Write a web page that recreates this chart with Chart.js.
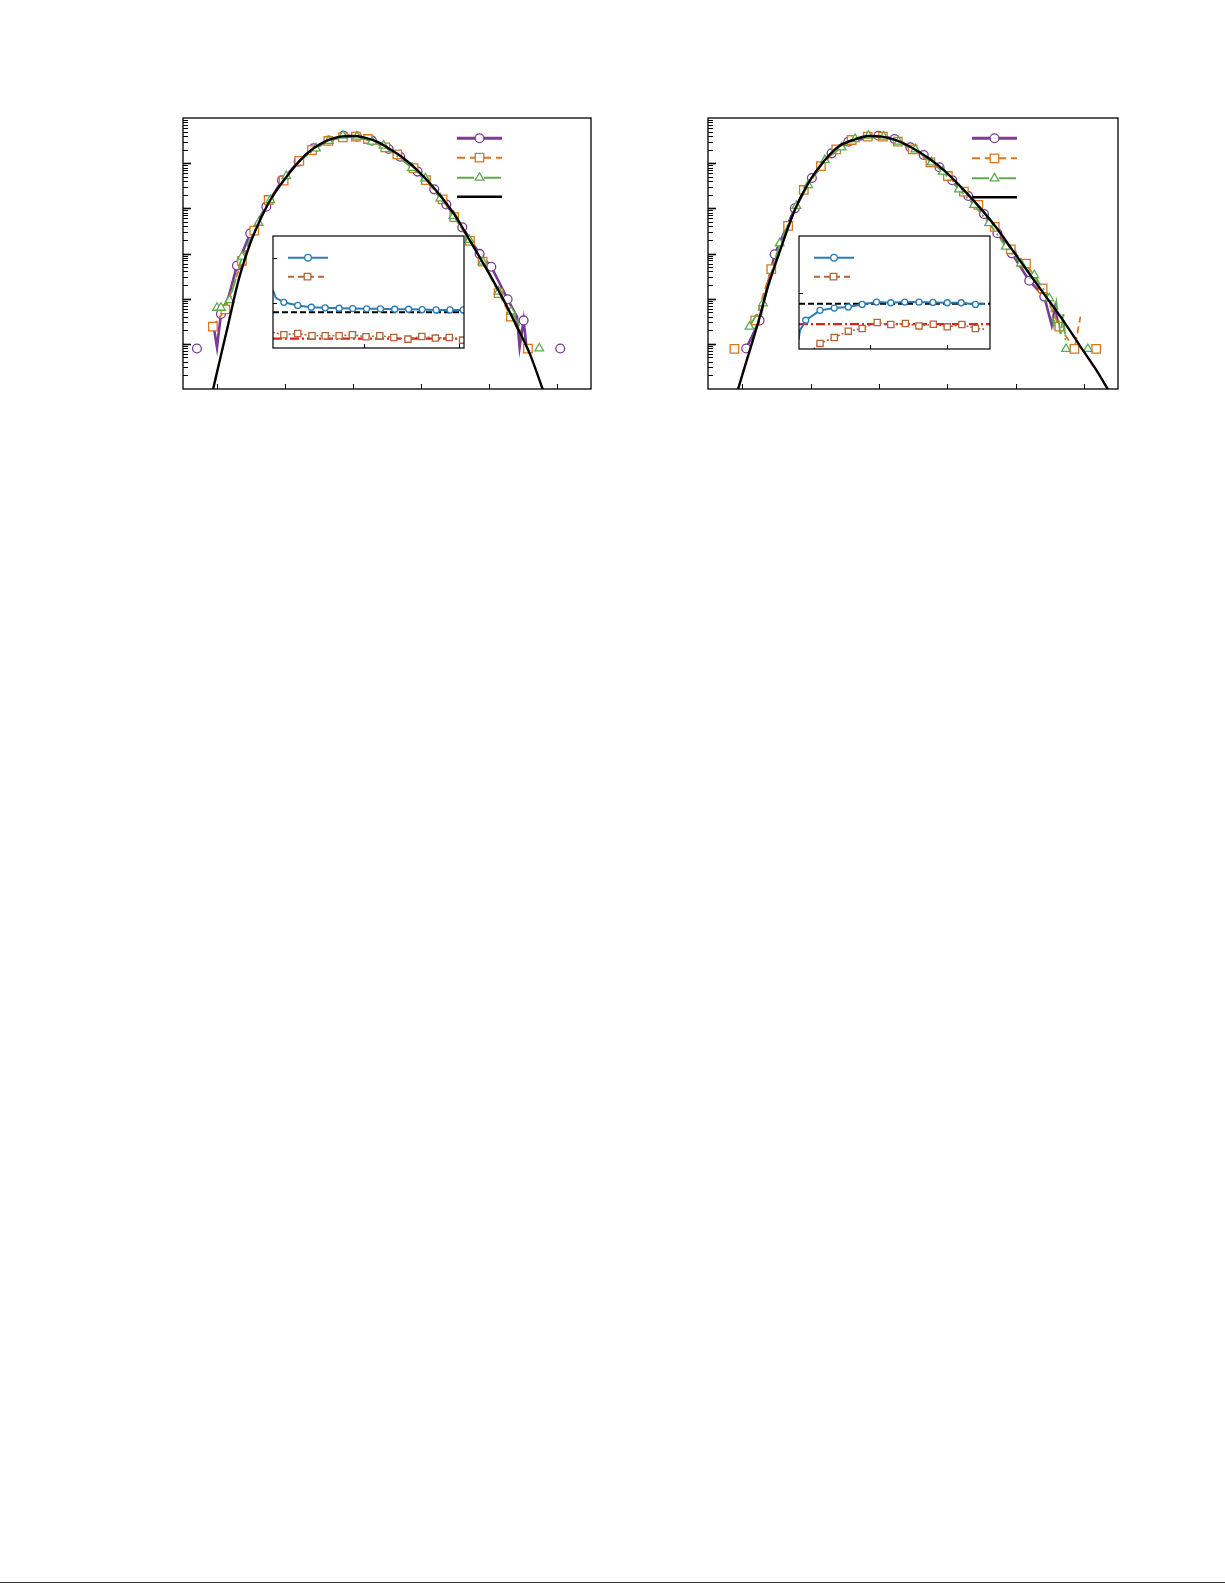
<!DOCTYPE html>
<html>
<head>
<meta charset="utf-8">
<script src="https://cdn.jsdelivr.net/npm/chart.js@4.4.1/dist/chart.umd.min.js"></script>
<style>
html, body { margin: 0; padding: 0; background: #fff; }
body { width: 1225px; height: 1585px; position: relative; overflow: hidden; }
canvas { position: absolute; }
#rule { position: absolute; left: 0; top: 1582px; width: 1225px; height: 1px; background: #333; }
</style>
</head>
<body>
<canvas id="mainL" style="left:173px;top:108px" width="428" height="291"></canvas>
<canvas id="mainR" style="left:698px;top:108px" width="430" height="291"></canvas>
<canvas id="insetL" style="left:263px;top:226px" width="211" height="132"></canvas>
<canvas id="insetR" style="left:789px;top:226px" width="211" height="133"></canvas>
<div id="rule"></div>
<script>
// ---- axis ticks (no labels in the figure) ----
const mainXTicks = [0, 1, 2, 3, 4, 5];
const mainDecades = [1e-7, 1e-6, 1e-5, 1e-4, 1e-3, 1e-2, 1e-1];
const insetLXTicks = [1, 2];
const insetLYTicks = [1, 2];
const insetRXTicks = [1, 2];
const insetRYTicks = [1];

// ---- left panel, main plot ----
const purpleLX = [-0.295, -0.2, -0.04, 0.0, 0.058, 0.171, 0.293, 0.489, 0.725, 0.955, 1.2, 1.421, 1.641, 1.862, 2.058, 2.279, 2.524, 2.695, 2.95, 3.195, 3.372, 3.607, 3.862, 4.034, 4.274, 4.411, 4.45, 4.509, 4.548, 4.8, 5.048];
const purpleLY = [7.9e-7, null, 2.0e-6, 8.4e-7, 4.6e-6, 1.1e-5, 5.4e-5, 2.8e-4, 1.09e-3, 4.2e-3, 1.08e-2, 2.13e-2, 3.15e-2, 4.06e-2, 3.87e-2, 3.15e-2, 2.06e-2, 1.39e-2, 6.5e-3, 2.63e-3, 1.22e-3, 3.8e-4, 9.8e-5, 5.1e-5, 9.7e-6, 4.0e-6, 8.4e-7, 3.3e-6, 9.4e-7, null, 7.9e-7];
const orangeLX = [-0.06, 0.122, 0.367, 0.548, 0.759, 0.98, 1.21, 1.396, 1.637, 1.852, 2.043, 2.22, 2.475, 2.651, 2.891, 3.073, 3.318, 3.489, 3.72, 3.906, 4.141, 4.323, 4.573];
const orangeLY = [2.4e-6, 5.8e-6, 6.9e-5, 3.2e-4, 1.53e-3, 4.1e-3, 1.12e-2, 1.95e-2, 3.1e-2, 3.73e-2, 3.87e-2, 3.43e-2, 2.24e-2, 1.57e-2, 7.8e-3, 4.2e-3, 1.58e-3, 6.4e-4, 1.9e-4, 6.6e-5, 1.33e-5, 4.0e-6, 7.8e-7];
const greenLX = [0.0, 0.058, 0.186, 0.367, 0.612, 0.784, 1.019, 1.225, 1.455, 1.641, 1.852, 2.058, 2.279, 2.45, 2.867, 3.063, 3.284, 3.48, 3.71, 3.906, 4.141, 4.323, 4.435, 4.484, 4.6, 4.739];
const greenLY = [6.3e-6, 6.3e-6, 9.3e-6, 8.5e-5, 4.8e-4, 1.53e-3, 5.2e-3, 1.17e-2, 2.13e-2, 3.1e-2, 4.06e-2, 3.87e-2, 2.99e-2, 2.44e-2, 7.9e-3, 4.6e-3, 1.66e-3, 6.8e-4, 2.0e-4, 6.6e-5, 1.43e-5, 5.2e-6, 2.8e-6, 1.2e-6, null, 7.9e-7];
const fitLX = [-0.06, 0.048, 0.16, 0.318, 0.489, 0.612, 0.784, 1.004, 1.225, 1.421, 1.617, 1.813, 1.985, 2.156, 2.352, 2.548, 2.744, 2.94, 3.137, 3.333, 3.529, 3.7, 3.872, 4.044, 4.215, 4.411, 4.607, 4.793];
const fitLY = [9.5e-8, 4.8e-7, 2.5e-6, 2.6e-5, 1.68e-4, 4.7e-4, 1.53e-3, 4.6e-3, 1.17e-2, 2.13e-2, 3.15e-2, 3.87e-2, 3.99e-2, 3.73e-2, 2.99e-2, 2.02e-2, 1.28e-2, 7.1e-3, 3.5e-3, 1.53e-3, 6.0e-4, 2.17e-4, 7.8e-5, 2.8e-5, 9.3e-6, 2.4e-6, 5.7e-7, 9.5e-8];

// ---- right panel, main plot ----
const purpleRX = [0.059, 0.255, 0.475, 0.77, 1.02, 1.309, 1.554, 1.995, 2.23, 2.461, 2.657, 2.887, 3.074, 3.309, 3.539, 3.735, 3.946, 4.201, 4.421, 4.53, 4.58, 4.64];
const purpleRY = [7.9e-7, 3.3e-6, 9.6e-5, 1.0e-3, 4.7e-3, 1.65e-2, 2.99e-2, 4.06e-2, 3.43e-2, 2.24e-2, 1.52e-2, 8.1e-3, 4.2e-3, 1.88e-3, 7.5e-4, 2.8e-4, 1.01e-4, 2.5e-5, 1.11e-5, 2.6e-6, 6.5e-6, 2.0e-6];
const orangeRX = [-0.113, 0.04, 0.191, 0.426, 0.672, 0.902, 1.152, 1.377, 1.603, 1.838, 2.06, 2.279, 2.495, 2.755, 3.01, 3.245, 3.456, 3.696, 3.931, 4.153, 4.397, 4.642, 4.863, 4.95, 5.06, 5.181];
const orangeRY = [7.7e-7, null, 3.3e-6, 4.5e-5, 4.1e-4, 2.55e-3, 8.6e-3, 2.02e-2, 3.26e-2, 3.87e-2, 3.87e-2, 2.99e-2, 2.02e-2, 1.04e-2, 5.2e-3, 2.34e-3, 1.19e-3, 3.9e-4, 1.24e-4, 6.0e-5, 1.69e-5, 2.4e-6, 7.7e-7, 4.0e-6, null, 7.7e-7];
const greenRX = [0.108, 0.304, 0.549, 0.794, 0.966, 1.211, 1.456, 1.652, 1.848, 2.069, 2.289, 2.534, 2.77, 2.936, 3.172, 3.392, 3.613, 3.858, 4.078, 4.274, 4.495, 4.56, 4.6, 4.66, 4.70, 4.74, 4.9, 5.059];
const greenRY = [2.4e-6, 7.9e-6, 1.68e-4, 1.13e-3, 3.28e-3, 1.17e-2, 2.24e-2, 3.43e-2, 4.06e-2, 3.87e-2, 2.99e-2, 2.02e-2, 1.04e-2, 6.5e-3, 2.63e-3, 1.19e-3, 4.7e-4, 1.42e-4, 6.0e-5, 3.3e-5, 1.02e-5, 2.6e-6, 8.0e-6, 1.5e-6, 5.0e-6, 7.7e-7, null, 7.7e-7];
const fitRX = [-0.064, 0.083, 0.23, 0.377, 0.574, 0.77, 0.966, 1.211, 1.407, 1.652, 1.848, 2.044, 2.24, 2.485, 2.73, 2.975, 3.221, 3.466, 3.71, 3.956, 4.201, 4.446, 4.691, 4.936, 5.181, 5.353];
const fitRY = [9.5e-8, 5.2e-7, 2.84e-6, 1.84e-5, 1.42e-4, 9.2e-4, 3.57e-3, 1.17e-2, 2.32e-2, 3.37e-2, 3.99e-2, 3.87e-2, 3.26e-2, 2.2e-2, 1.28e-2, 6.5e-3, 2.77e-3, 1.09e-3, 3.9e-4, 1.19e-4, 3.6e-5, 1.11e-5, 3.4e-6, 9.4e-7, 2.64e-7, 9.8e-8];

// ---- insets ----
const blueLX = [0.039, 0.07, 0.154, 0.30, 0.443, 0.589, 0.736, 0.879, 1.025, 1.171, 1.321, 1.467, 1.61, 1.757, 1.903, 2.042];
const blueLY = [1.29, 1.12, 1.02, 0.95, 0.91, 0.896, 0.887, 0.881, 0.874, 0.874, 0.865, 0.865, 0.858, 0.851, 0.851, 0.851];
const brownLX = [0.039, 0.154, 0.30, 0.45, 0.589, 0.736, 0.875, 1.018, 1.164, 1.311, 1.46, 1.606, 1.749, 1.895, 2.035];
const brownLY = [0.35, 0.295, 0.324, 0.273, 0.273, 0.273, 0.295, 0.25, 0.273, 0.234, 0.198, 0.257, 0.221, 0.234, 0.176];
const refHighL = 0.80;
const refLowL = 0.21;

const blueRX = [0.073, 0.094, 0.168, 0.353, 0.538, 0.72, 0.9, 1.087, 1.272, 1.453, 1.638, 1.819, 2.005, 2.186, 2.371, 2.488];
const blueRY = [0.158, 0.333, 0.509, 0.684, 0.725, 0.743, 0.789, 0.83, 0.819, 0.83, 0.83, 0.825, 0.819, 0.819, 0.789, 0.795];
const brownRX = [0.27, 0.353, 0.538, 0.72, 0.9, 1.095, 1.272, 1.462, 1.638, 1.824, 2.005, 2.194, 2.371, 2.488];
const brownRY = [0.0, 0.099, 0.205, 0.316, 0.363, 0.468, 0.433, 0.45, 0.409, 0.439, 0.392, 0.433, 0.363, 0.351];
const refHighR = 0.80;
const refLowR = 0.44;

// ---- styles ----
const PURPLE = '#7B3A94', ORANGE = '#D9761E', GREEN = '#5DAA4C', BLACK = '#000';
const BLUE = '#2B7BB6', BROWN = '#B5643A', RED = '#E0201B';

const pts = (xs, ys) => xs.map((x, i) => ({ x: x, y: ys[i] }));

const logTicks = [];
for (const d of mainDecades) {
    for (let m = 1; m <= 9; m++) {
        if (m * d <= mainDecades[mainDecades.length - 1] * 1.0001) logTicks.push({ v: m * d, len: m === 1 ? 8 : 5 });
    }
}

function series(xs, ys, color, width, dash, marker, r, bare) {
    bare = bare || [];
    return {
        data: pts(xs, ys),
        borderColor: color,
        borderWidth: width,
        borderDash: dash,
        pointStyle: marker || 'circle',
        pointRadius: marker ? (ctx => bare.includes(ctx.dataIndex) ? 0 : r) : 0,
        pointBackgroundColor: '#fff',
        pointBorderColor: color,
        pointBorderWidth: 1.3,
        spanGaps: false,
        tension: 0,
        fill: false
    };
}

const frame = {
    id: 'frame',
    beforeDatasetsDraw(chart) {
        const { ctx, chartArea: a } = chart;
        ctx.save();
        ctx.fillStyle = '#fff';
        ctx.fillRect(a.left, a.top, a.right - a.left, a.bottom - a.top);
        ctx.restore();
    },
    afterDatasetsDraw(chart, args, opts) {
        const { ctx, chartArea: a } = chart;
        const x = chart.scales.x, y = chart.scales.y;
        ctx.save();
        ctx.strokeStyle = '#000';
        ctx.setLineDash([]);
        ctx.lineWidth = 1;
        for (const v of opts.xTicks) {
            const px = Math.round(x.getPixelForValue(v)) + 0.5;
            ctx.beginPath(); ctx.moveTo(px, a.bottom); ctx.lineTo(px, a.bottom - opts.xLen); ctx.stroke();
        }
        for (const t of opts.yTicks) {
            const py = Math.round(y.getPixelForValue(t.v)) + 0.5;
            if (py < a.top + 1 || py > a.bottom - 1) continue;
            ctx.lineWidth = t.len > 6 ? 1.6 : 1;
            ctx.beginPath(); ctx.moveTo(a.left, py); ctx.lineTo(a.left + t.len, py); ctx.stroke();
        }
        ctx.lineWidth = opts.frameWidth;
        ctx.strokeRect(a.left, a.top, a.right - a.left, a.bottom - a.top);
        // legend samples (no text in the figure)
        for (const e of opts.legend) {
            const y0 = a.top + e.y;
            ctx.strokeStyle = e.color;
            ctx.lineWidth = e.width;
            ctx.setLineDash(e.dash || []);
            ctx.beginPath(); ctx.moveTo(a.left + e.x0, y0); ctx.lineTo(a.left + e.x1, y0); ctx.stroke();
            ctx.setLineDash([]);
            if (e.marker) {
                ctx.fillStyle = '#fff';
                ctx.strokeStyle = e.color;
                ctx.lineWidth = 1.3;
                Chart.helpers.drawPoint(ctx, { pointStyle: e.marker, radius: e.r, rotation: 0, borderWidth: 1.3 }, a.left + (e.x0 + e.x1) / 2, y0);
            }
        }
        ctx.restore();
    }
};

function makeChart(id, datasets, xScale, yScale, frameOpts) {
    return new Chart(document.getElementById(id), {
        type: 'line',
        data: { datasets: datasets },
        options: {
            responsive: false,
            animation: false,
            layout: { padding: 10 },
            plugins: { legend: { display: false }, tooltip: { enabled: false }, frame: frameOpts },
            scales: {
                x: Object.assign({ type: 'linear', display: false }, xScale),
                y: Object.assign({ display: false }, yScale)
            }
        },
        plugins: [frame]
    });
}

const mainLegend = (x0, x1, ys) => [
    { x0: x0, x1: x1, y: ys[0], color: PURPLE, width: 3, marker: 'circle', r: 4.4 },
    { x0: x0, x1: x1, y: ys[1], color: ORANGE, width: 2, dash: [8, 5], marker: 'rect', r: 6 },
    { x0: x0, x1: x1, y: ys[2], color: GREEN, width: 2, dash: [17, 4, 2, 4], marker: 'triangle', r: 5 },
    { x0: x0, x1: x1, y: ys[3], color: BLACK, width: 2.6 }
];

function mainSets(fx, fy, gx, gy, gb, ox, oy, ob, px, py, pb) {
    const fit = series(fx, fy, BLACK, 2.4, [], null, 0);
    fit.cubicInterpolationMode = 'monotone';
    return [
        fit,
        series(gx, gy, GREEN, 1.8, [14, 4, 2, 4], 'triangle', 5, gb),
        series(ox, oy, ORANGE, 1.8, [7, 4], 'rect', 6, ob),
        series(px, py, PURPLE, 2.6, [], 'circle', 4.4, pb)
    ];
}

makeChart('mainL',
    mainSets(fitLX, fitLY, greenLX, greenLY, [7, 22, 23], orangeLX, orangeLY, [], purpleLX, purpleLY, [2, 3, 5, 25, 26, 28]),
    { min: -0.5, max: 5.5 },
    { type: 'logarithmic', min: 1e-7, max: 1e-1 },
    { xTicks: mainXTicks, xLen: 5, yTicks: logTicks, frameWidth: 1.3, legend: mainLegend(274, 319, [20.3, 39.7, 59.7, 78.7]) });

makeChart('mainR',
    mainSets(fitRX, fitRY, greenRX, greenRY, [21, 22, 23, 24], orangeRX, orangeRY, [23], purpleRX, purpleRY, [19, 20, 21]),
    { min: -0.5, max: 5.5 },
    { type: 'logarithmic', min: 1e-7, max: 1e-1 },
    { xTicks: mainXTicks, xLen: 5, yTicks: logTicks, frameWidth: 1.3, legend: mainLegend(264, 309, [20.3, 40.3, 60.3, 79.3]) });

function insetSets(bx, by, bb, rx, ry, rb, xmin, xmax, hi, lo) {
    return [
        series(bx, by, BLUE, 2, [], 'circle', 3, bb),
        series(rx, ry, BROWN, 1.6, [2, 2], 'rect', 4.4, rb),
        series([xmin, xmax], [lo, lo], RED, 2.4, [9, 3, 2, 3], null, 0),
        series([xmin, xmax], [hi, hi], BLACK, 2, [6, 3], null, 0)
    ];
}

const insetLegend = [
    { x0: 15, x1: 55, y: 21.7, color: BLUE, width: 2, marker: 'circle', r: 3.3 },
    { x0: 15, x1: 54, y: 40.7, color: BROWN, width: 2, dash: [6, 4], marker: 'rect', r: 4.6 }
];

makeChart('insetL',
    insetSets(blueLX, blueLY, [0, 1], brownLX, brownLY, [0], 0.04, 2.05, refHighL, refLowL),
    { min: 0.04, max: 2.05 },
    { type: 'linear', min: 0, max: 2.5 },
    { xTicks: insetLXTicks, xLen: 4, yTicks: insetLYTicks.map(v => ({ v: v, len: 4 })), frameWidth: 1.2, legend: insetLegend });

makeChart('insetR',
    insetSets(blueRX, blueRY, [0, 1, 15], brownRX, brownRY, [0, 13], 0.08, 2.56, refHighR, refLowR),
    { min: 0.08, max: 2.56 },
    { type: 'linear', min: 0, max: 2 },
    { xTicks: insetRXTicks, xLen: 4, yTicks: insetRYTicks.map(v => ({ v: v, len: 4 })), frameWidth: 1.2, legend: insetLegend });
</script>
</body>
</html>
